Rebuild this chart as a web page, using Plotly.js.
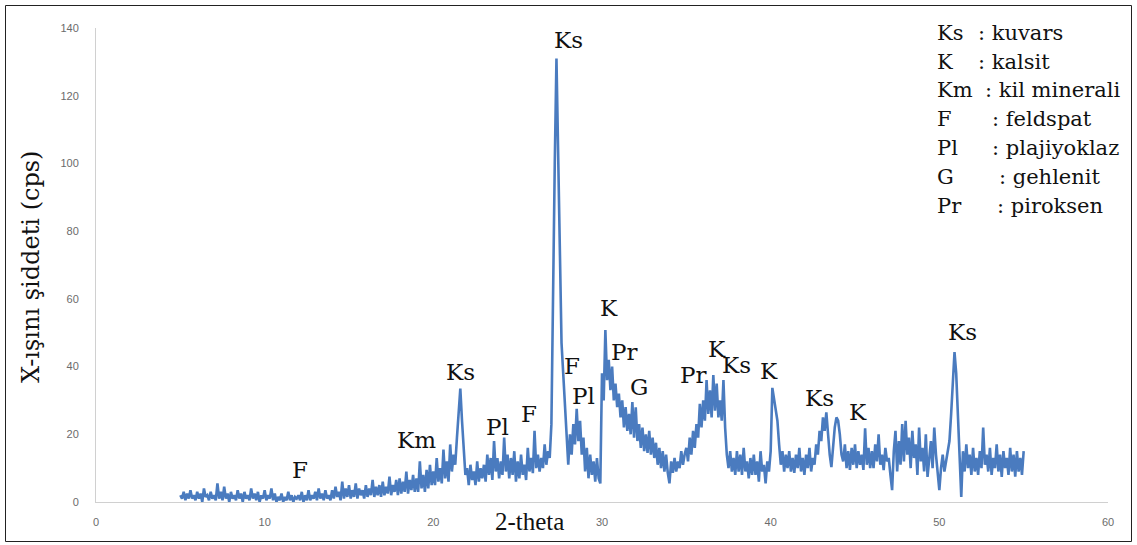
<!DOCTYPE html>
<html>
<head>
<meta charset="utf-8">
<script src="https://cdn.plot.ly/plotly-3.0.1.min.js"></script>
<style>
  html, body { margin: 0; padding: 0; background: #fff; }
  #chart { width: 1137px; height: 545px; }
</style>
</head>
<body>
<div id="chart"></div>
<script>
// 2-theta grid of the scan (start, step) and intensities
const thetaStart = 5.0;
const thetaStep = 0.1;
const intensity = [
  // 5.0 - 5.9
  2, 1, 3, 0.5, 2.5, 1, 3.5, 1, 2, 0.5,
  // 6
  3, 1, 2.5, 0, 4, 1.5, 2, 0.5, 3, 1,
  // 7
  2, 0.5, 5.5, 1, 3, 0.5, 4.5, 1, 2.5, 0,
  // 8
  3, 1, 2, 0.5, 3.5, 1, 2.5, 0, 3, 1,
  // 9
  2, 0.5, 4, 1, 2.5, 0.5, 3, 0, 2, 1,
  // 10
  3.5, 0.5, 2, 1, 4, 0.5, 2.5, 0, 1.5, 0.5,
  // 11
  2.5, 0, 1.5, 0.5, 3, 0.5, 2, 0, 1.5, 1,
  // 12
  2, 0.5, 3, 0, 2, 0.5, 3.5, 0.5, 2, 1,
  // 13
  3, 0.5, 4, 1, 2.5, 0.5, 3.5, 1, 2, 0.5,
  // 14
  3.5, 1, 4.5, 1.5, 3, 0.5, 6, 1, 4, 1.5,
  // 15
  5, 1, 3.5, 1.5, 5.5, 1, 4, 2, 3.5, 1,
  // 16
  5, 1.5, 4, 2, 6.5, 1.5, 4.5, 2, 5, 1.5,
  // 17
  6, 2, 4.5, 2.5, 7.5, 2, 5, 3, 6.5, 2,
  // 18
  7, 2.5, 6, 3, 9, 2.5, 6.5, 3.5, 8, 3,
  // 19
  7, 3, 12, 4, 8, 3, 9.5, 4, 11, 5,
  // 20
  9, 5, 13, 6, 10, 5.5, 15.5, 7, 12, 6,
  // 21
  17, 9, 14, 11, 19, 25, 33.5, 24, 14, 8,
  // 22
  10, 5, 11, 6.5, 9, 5, 12, 6, 10, 7,
  // 23
  11, 6, 14, 8, 13, 6.5, 18, 9, 13, 7,
  // 24
  12, 8, 19, 9, 14, 7, 13, 8, 15, 6,
  // 25
  12, 7, 14, 8, 11, 6.5, 16, 9, 13, 8.5,
  // 26
  21, 10, 14, 9, 13, 10, 17, 11, 15, 13,
  // 27
  23, 70, 100, 131, 101, 72, 47, 38, 28, 18,
  // 28
  11, 20, 14, 23, 17, 27.5, 18, 24, 14, 19,
  // 29
  9, 16, 7, 14, 8, 12, 6, 13, 7, 5.5,
  // 30
  38, 30, 50.8, 36, 42, 33, 40, 30, 35, 28,
  // 31
  32, 25, 30, 22, 28, 21, 26, 20, 29.5, 19,
  // 32
  28, 18, 23, 16, 22, 15, 20, 14.5, 21, 14,
  // 33
  19, 13, 17.5, 11, 16, 10, 15, 9, 14, 8.6,
  // 34
  5.5, 12, 8.6, 13, 9, 12, 10, 15, 11, 14,
  // 35
  16, 12, 19, 14, 21, 16, 23, 19, 29, 22,
  // 36
  30, 24, 36, 26, 33, 25, 37.5, 27, 35, 25,
  // 37
  30, 24, 36, 22, 14, 10, 15, 9, 13, 8,
  // 38
  15, 9, 14, 8, 16, 9, 12, 7, 13, 8,
  // 39
  14, 8, 12, 6, 15, 9, 11, 5.5, 12, 9,
  // 40
  15, 33.7, 30, 27, 24, 17, 11, 15, 9, 14,
  // 41
  10, 15, 9, 13, 8.6, 14, 10, 16, 9, 13,
  // 42
  8, 14, 10, 16, 9, 13, 11, 17, 14, 21,
  // 43
  18, 25, 21, 26.5, 19, 14, 10.3, 17, 22, 25,
  // 44
  24, 20, 14, 12, 17, 10, 15, 9.5, 16, 11,
  // 45
  17, 10, 15, 11, 14, 9.5, 21.8, 11, 16, 10,
  // 46
  15, 10, 17, 12, 20, 11, 14, 9.4, 16, 12,
  // 47
  13, 8, 3.5, 15, 21, 9, 18, 11, 23, 12,
  // 48
  24, 14, 19, 10, 21, 13, 17, 8, 22, 12,
  // 49
  16, 9, 20, 7.4, 13, 18, 10, 22, 14, 8,
  // 50
  3.5, 10, 14, 9, 12, 16, 18, 26, 37, 44.3,
  // 51
  38, 25, 12, 1.5, 15, 9, 17, 10, 14, 8,
  // 52
  16, 9, 13, 8, 15, 10, 22, 11, 14, 9,
  // 53
  16, 8, 13, 10, 17, 9, 14, 7.4, 15, 10,
  // 54
  13, 8, 16, 9, 14, 7.5, 15, 9, 13, 8,
  // 55.0
  15
];
const theta = intensity.map((_, i) => +(thetaStart + i * thetaStep).toFixed(2));

// Peak labels
const peakLabels = ["F", "Km", "Ks", "Pl", "F", "Ks", "F", "Pl", "K", "Pr", "G", "Pr", "K", "Ks", "K", "Ks", "K", "Ks"];
const peakTheta  = [12.1, 19.0, 21.6, 23.8, 25.7, 28.0, 28.2, 28.9, 30.4, 31.3, 32.2, 35.4, 36.8, 38.0, 39.9, 42.9, 45.2, 51.4];
const peakCps    = [9.5, 18.3, 38.4, 22.2, 26.0, 136.5, 40.2, 31.3, 57.3, 44.3, 34.0, 37.5, 45.2, 40.5, 38.7, 30.7, 26.6, 50.2];

// Key of abbreviations
const keyAbbr = ["Ks", "K", "Km", "F", "Pl", "G", "Pr"];
const keyName = [": kuvars", ": kalsit", ": kil minerali", ": feldspat", ": plajiyoklaz", ": gehlenit", ": piroksen"];

const xTicks = [0, 10, 20, 30, 40, 50, 60];
const yTicks = [0, 20, 40, 60, 80, 100, 120, 140];

const serif = "DejaVu Serif";
const tnr = "Liberation Serif";

// plot area in pixels
const L = 96, R = 1108, T = 28, B = 502;
const W = R - L, H = B - T;
const px2paperX = p => (p - L) / W;
const px2paperY = p => (B - p) / H;

const annotations = [];
peakLabels.forEach((t, i) => {
  annotations.push({
    x: peakTheta[i], y: peakCps[i], xref: "x", yref: "y",
    text: t, showarrow: false,
    font: { family: serif, size: 23, color: "#111" }
  });
});
const keyY = [33, 62, 90, 119, 148, 177, 206];
const keyColX = [976, 976, 983, 990, 990, 997, 995];
keyAbbr.forEach((t, i) => {
  annotations.push({
    x: px2paperX(935), y: px2paperY(keyY[i]), xref: "paper", yref: "paper",
    xanchor: "left", yanchor: "middle", text: t, showarrow: false,
    font: { family: serif, size: 21, color: "#111" }
  });
  annotations.push({
    x: px2paperX(keyColX[i]), y: px2paperY(keyY[i]), xref: "paper", yref: "paper",
    xanchor: "left", yanchor: "middle", text: keyName[i], showarrow: false,
    font: { family: serif, size: 21, color: "#111" }
  });
});
// x axis title drawn in the tick-label row
annotations.push({
  x: px2paperX(529), y: px2paperY(521), xref: "paper", yref: "paper",
  xanchor: "center", yanchor: "middle", text: "2-theta", showarrow: false,
  font: { family: tnr, size: 25, color: "#111" }
});
// y axis title
annotations.push({
  x: px2paperX(31), y: px2paperY(267), xref: "paper", yref: "paper",
  xanchor: "center", yanchor: "middle", textangle: -90,
  text: "X-ışını şiddeti (cps)", showarrow: false,
  font: { family: serif, size: 24, color: "#111" }
});

const data = [{
  x: theta, y: intensity, type: "scatter", mode: "lines",
  line: { color: "#4a7bbf", width: 2.6 },
  hoverinfo: "x+y"
}];

const layout = {
  width: 1137, height: 545,
  margin: { l: L, r: 1137 - R, t: T, b: 545 - B, pad: 0 },
  paper_bgcolor: "#fff", plot_bgcolor: "#fff",
  showlegend: false,
  xaxis: {
    range: [0, 60], tickvals: xTicks, ticktext: xTicks.map(String),
    showgrid: false, zeroline: false, showline: true, linecolor: "#d0d0d0", linewidth: 1,
    ticks: "", ticklabelstandoff: 10,
    tickfont: { family: "Liberation Sans", size: 11, color: "#6b6b6b" }
  },
  yaxis: {
    range: [0, 140], tickvals: yTicks, ticktext: yTicks.map(String),
    showgrid: false, zeroline: false, showline: true, linecolor: "#d0d0d0", linewidth: 1,
    ticks: "", ticklabelstandoff: 14,
    tickfont: { family: "Liberation Sans", size: 11, color: "#6b6b6b" }
  },
  annotations: annotations,
  shapes: [{
    type: "rect", xref: "paper", yref: "paper",
    x0: px2paperX(5.5), x1: px2paperX(1131.5), y0: px2paperY(541.5), y1: px2paperY(5.5),
    line: { color: "#222", width: 1 }, fillcolor: "rgba(0,0,0,0)", layer: "above"
  }]
};

Plotly.newPlot("chart", data, layout, { displayModeBar: false, staticPlot: true });
</script>
</body>
</html>
